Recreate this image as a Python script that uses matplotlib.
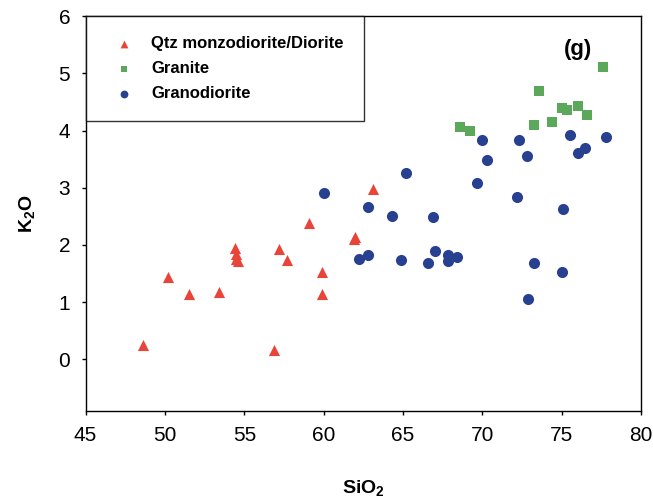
import matplotlib
matplotlib.use("Agg")
import matplotlib.pyplot as plt

# ── Data ───────────────────────────────────────────────────────────────────────
dio_si = [48.6, 50.2, 51.5, 53.4, 54.4, 54.5, 54.5, 54.6, 56.9, 57.2, 57.7, 59.1,
          59.9, 59.9, 61.9, 62.0, 63.1]
dio_k  = [0.25, 1.44, 1.14, 1.17, 1.94, 1.84, 1.76, 1.72, 0.17, 1.93, 1.74, 2.38,
          1.53, 1.14, 2.10, 2.13, 2.98]

gra_si = [68.6, 69.2, 73.25, 73.55, 74.4, 75.0, 75.35, 76.0, 76.6, 77.6]
gra_k  = [4.07, 3.99, 4.09, 4.69, 4.15, 4.39, 4.36, 4.42, 4.28, 5.11]

gd_si = [60.0, 62.2, 62.8, 62.8, 64.3, 64.9, 65.2, 66.6, 66.9, 67.0, 67.8, 67.8,
         68.4, 69.65, 69.95, 70.3, 72.15, 72.3, 72.8, 72.85, 73.25, 75.05, 75.0,
         75.5, 76.0, 76.45, 77.8]
gd_k  = [2.91, 1.75, 1.83, 2.67, 2.51, 1.74, 3.25, 1.68, 2.48, 1.89, 1.71, 1.82,
         1.79, 3.09, 3.84, 3.49, 2.84, 3.83, 3.55, 1.05, 1.69, 2.62, 1.53,
         3.92, 3.61, 3.69, 3.88]

RED, GREEN, BLUE = "#e8443a", "#5ba85a", "#27408f"
FONT = "Liberation Sans"

fig = plt.figure(figsize=(6.53, 5.04), dpi=100)
ax = fig.add_axes([0.131, 0.185, 0.851, 0.783])

ax.scatter(dio_si, dio_k, marker="^", s=64, color=RED, lw=0, label="Qtz monzodiorite/Diorite")
ax.scatter(gra_si, gra_k, marker="s", s=44, color=GREEN, lw=0, label="Granite")
ax.scatter(gd_si, gd_k, marker="o", s=64, color=BLUE, lw=0, label="Granodiorite")

ax.set_xlim(45, 80)
ax.set_ylim(-0.9, 6)
ax.set_xticks(range(45, 81, 5))
ax.set_yticks(range(0, 7))
ax.tick_params(direction="out", length=3, width=1, labelsize=15, pad=8)
for lbl in ax.get_xticklabels() + ax.get_yticklabels():
    lbl.set_family(FONT)
for sp in ax.spines.values():
    sp.set_linewidth(1.0)

ax.set_xlabel("SiO$_\\mathregular{2}$", fontsize=14, fontweight="bold", family=FONT, labelpad=24)
ax.set_ylabel("K$_\\mathregular{2}$O", fontsize=14, fontweight="bold", family=FONT, labelpad=15)

ax.text(0.912, 0.915, "(g)", transform=ax.transAxes, fontsize=16, fontweight="bold",
        family=FONT, ha="right", va="center")

leg = ax.legend(loc="upper left", bbox_to_anchor=(0, 1), borderaxespad=0,
                prop={"family": FONT, "weight": "bold", "size": 12},
                frameon=True, fancybox=False, edgecolor="black",
                markerscale=0.7, handletextpad=0.55, labelspacing=0.6,
                borderpad=1.2, handlelength=2.2)
leg.get_frame().set_linewidth(1.0)

plt.savefig("out.png", dpi=100)
